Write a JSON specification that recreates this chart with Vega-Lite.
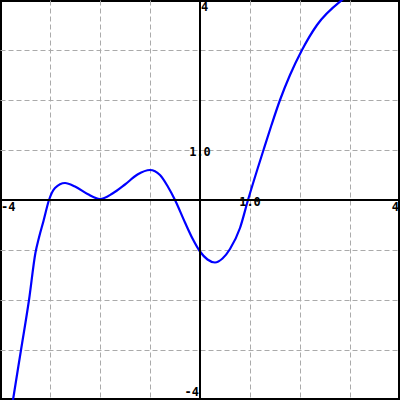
{
  "$schema": "https://vega.github.io/schema/vega-lite/v6.json",
  "width": 400,
  "height": 400,
  "padding": 0,
  "autosize": {"type": "none"},
  "background": "white",
  "config": {"view": {"stroke": "black", "strokeWidth": 4}},
  "datasets": {
    "curve": [
      {"x": -3.8, "y": -4.4},
      {"x": -3.74, "y": -4.0},
      {"x": -3.58, "y": -3.0},
      {"x": -3.42, "y": -2.0},
      {"x": -3.29, "y": -1.05},
      {"x": -3.22, "y": -0.75},
      {"x": -3.13, "y": -0.42},
      {"x": -3.02, "y": 0.0},
      {"x": -2.9, "y": 0.24},
      {"x": -2.7, "y": 0.34},
      {"x": -2.5, "y": 0.27},
      {"x": -2.25, "y": 0.12},
      {"x": -2.0, "y": 0.02},
      {"x": -1.75, "y": 0.13},
      {"x": -1.5, "y": 0.31},
      {"x": -1.25, "y": 0.51},
      {"x": -1.0, "y": 0.6},
      {"x": -0.8, "y": 0.5},
      {"x": -0.65, "y": 0.28},
      {"x": -0.5, "y": 0.0},
      {"x": -0.3, "y": -0.45},
      {"x": -0.15, "y": -0.77},
      {"x": 0.0, "y": -1.03},
      {"x": 0.15, "y": -1.19},
      {"x": 0.3, "y": -1.25},
      {"x": 0.45, "y": -1.17},
      {"x": 0.6, "y": -0.98},
      {"x": 0.8, "y": -0.56},
      {"x": 0.96, "y": 0.0},
      {"x": 1.27, "y": 1.0},
      {"x": 1.43, "y": 1.5},
      {"x": 1.6, "y": 2.0},
      {"x": 1.8, "y": 2.5},
      {"x": 2.04, "y": 3.0},
      {"x": 2.34, "y": 3.5},
      {"x": 2.84, "y": 4.0},
      {"x": 3.0, "y": 4.12}
    ],
    "lt": [
      {"x": -4, "y": 0, "t": "-4"},
      {"x": 0, "y": 4, "t": "4"}
    ],
    "rt": [
      {"x": 4, "y": 0, "t": "4"}
    ],
    "cm": [
      {"x": 1, "y": 0, "t": "1.0"},
      {"x": 0, "y": 1, "t": "1.0"}
    ],
    "rb": [
      {"x": 0, "y": -4, "t": "-4"}
    ]
  },
  "layer": [
    {
      "data": {"name": "curve"},
      "mark": {"type": "line", "color": "#0000ff", "strokeWidth": 2.2, "interpolate": "monotone", "clip": true},
      "encoding": {
        "x": {"field": "x", "type": "quantitative", "scale": {"domain": [-4, 4], "nice": false, "zero": false},
          "axis": {"title": null, "labels": false, "ticks": false, "domain": false, "grid": true, "values": [-3, -2, -1, 1, 2, 3], "gridColor": "#aaaaaa", "gridDash": [5, 3], "gridWidth": 1}},
        "y": {"field": "y", "type": "quantitative", "scale": {"domain": [-4, 4], "nice": false, "zero": false},
          "axis": {"title": null, "labels": false, "ticks": false, "domain": false, "grid": true, "values": [-3, -2, -1, 1, 2, 3], "gridColor": "#aaaaaa", "gridDash": [5, 3], "gridWidth": 1}},
        "order": {"field": "x", "type": "quantitative"}
      }
    },
    {
      "mark": {"type": "rule", "color": "black", "strokeWidth": 2},
      "data": {"values": [{"v": 0}]},
      "encoding": {"x": {"field": "v", "type": "quantitative"}}
    },
    {
      "mark": {"type": "rule", "color": "black", "strokeWidth": 2},
      "data": {"values": [{"v": 0}]},
      "encoding": {"y": {"field": "v", "type": "quantitative"}}
    },
    {
      "data": {"name": "lt"},
      "mark": {"type": "text", "align": "left", "baseline": "top", "dy": 2, "dx": 1, "font": "DejaVu Sans Mono", "fontWeight": "bold", "fontSize": 12, "color": "black"},
      "encoding": {
        "x": {"field": "x", "type": "quantitative"},
        "y": {"field": "y", "type": "quantitative"},
        "text": {"field": "t"}
      }
    },
    {
      "data": {"name": "rt"},
      "mark": {"type": "text", "align": "right", "baseline": "top", "dy": 2, "dx": -1, "font": "DejaVu Sans Mono", "fontWeight": "bold", "fontSize": 12, "color": "black"},
      "encoding": {
        "x": {"field": "x", "type": "quantitative"},
        "y": {"field": "y", "type": "quantitative"},
        "text": {"field": "t"}
      }
    },
    {
      "data": {"name": "cm"},
      "mark": {"type": "text", "align": "center", "baseline": "middle", "dy": 2, "font": "DejaVu Sans Mono", "fontWeight": "bold", "fontSize": 12, "color": "black"},
      "encoding": {
        "x": {"field": "x", "type": "quantitative"},
        "y": {"field": "y", "type": "quantitative"},
        "text": {"field": "t"}
      }
    },
    {
      "data": {"name": "rb"},
      "mark": {"type": "text", "align": "right", "baseline": "bottom", "dx": -1, "dy": -1, "font": "DejaVu Sans Mono", "fontWeight": "bold", "fontSize": 12, "color": "black"},
      "encoding": {
        "x": {"field": "x", "type": "quantitative"},
        "y": {"field": "y", "type": "quantitative"},
        "text": {"field": "t"}
      }
    }
  ]
}
